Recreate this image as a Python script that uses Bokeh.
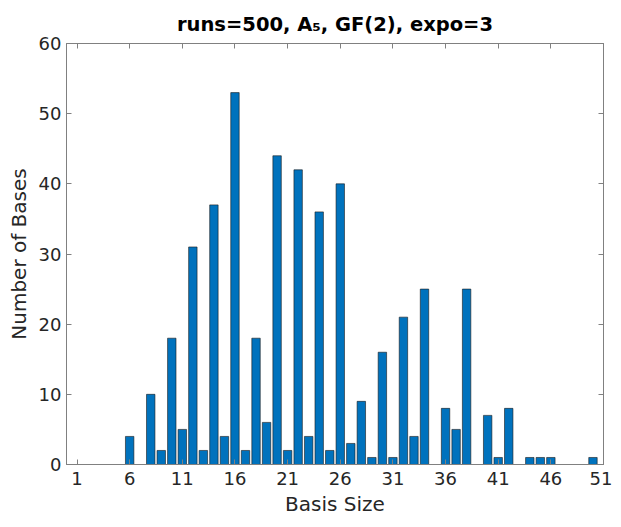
from bokeh.plotting import figure
from bokeh.models import Range1d, LinearAxis, FixedTicker
from bokeh.embed import file_html
from bokeh.resources import INLINE

basis_size = [6, 8, 9, 10, 11, 12, 13, 14, 15, 16, 17, 18, 19, 20, 21, 22, 23, 24, 25, 26,
              27, 28, 29, 30, 31, 32, 33, 34, 36, 37, 38, 40, 41, 42, 44, 45, 46, 50]
num_bases = [4, 10, 2, 18, 5, 31, 2, 37, 4, 53, 2, 18, 6, 44, 2, 42, 4, 36, 2, 40,
             3, 9, 1, 16, 1, 21, 4, 25, 8, 5, 25, 7, 1, 8, 1, 1, 1, 1]
x_ticks = [1, 6, 11, 16, 21, 26, 31, 36, 41, 46, 51]
y_ticks = [0, 10, 20, 30, 40, 50, 60]
title_text = "runs=500, A₅, GF(2), expo=3"

FONT = "DejaVu Sans"
AX = "#808080"
TXT = "#262626"

p = figure(width=612, height=518, output_backend="svg", toolbar_location=None,
           x_range=Range1d(0, 51), y_range=Range1d(0, 60),
           min_border_left=66, min_border_right=9, min_border_top=43, min_border_bottom=52,
           title=title_text)
p.title.align = "center"
p.title.text_font = FONT
p.title.text_font_size = "19.5px"
p.title.text_font_style = "bold"
p.title.text_color = "black"
p.title.offset = 0
p.title.standoff = 16

p.vbar(x=basis_size, top=num_bases, width=0.8, bottom=0,
       fill_color="#0072BD", line_color="#1a1a1a", line_width=0.6)

p.xgrid.visible = False
p.ygrid.visible = False
p.outline_line_color = AX
p.outline_line_width = 1

def style(ax, labels=True):
    ax.axis_line_color = AX
    ax.major_tick_line_color = AX
    ax.major_tick_in = 5
    ax.major_tick_out = 0
    ax.minor_tick_line_color = None
    ax.major_label_text_font = FONT
    ax.major_label_text_font_size = "18px"
    ax.major_label_text_color = TXT
    ax.axis_label_text_font = FONT
    ax.axis_label_text_font_size = "20px"
    ax.axis_label_text_color = TXT
    ax.axis_label_text_font_style = "normal"
    if not labels:
        ax.major_label_text_font_size = "0px"
        ax.major_label_text_alpha = 0

p.xaxis.ticker = FixedTicker(ticks=x_ticks)
p.yaxis.ticker = FixedTicker(ticks=y_ticks)
p.xaxis.axis_label = "Basis Size"
p.yaxis.axis_label = "Number of Bases"
style(p.xaxis[0])
style(p.yaxis[0])
p.xaxis.major_label_standoff = 7
p.yaxis.major_label_standoff = 5
p.xaxis.axis_label_standoff = 4
p.yaxis.axis_label_standoff = 5

top_ax = LinearAxis(ticker=FixedTicker(ticks=x_ticks))
right_ax = LinearAxis(ticker=FixedTicker(ticks=y_ticks))
style(top_ax, labels=False)
style(right_ax, labels=False)
top_ax.major_label_standoff = 0
right_ax.major_label_standoff = 0
p.add_layout(top_ax, "above")
p.add_layout(right_ax, "right")

open("out.html", "w").write(file_html(p, INLINE))
